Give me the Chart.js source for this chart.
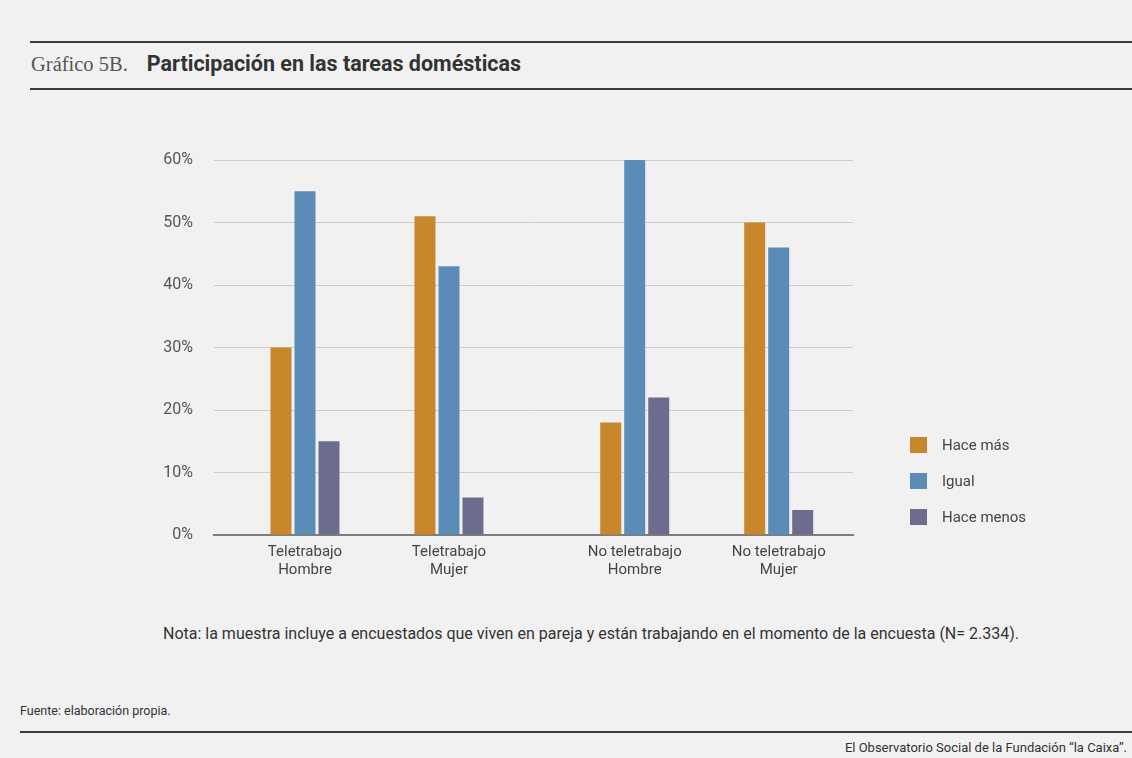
<!DOCTYPE html>
<html>
<head>
<meta charset="utf-8">
<script src="https://cdn.jsdelivr.net/npm/chart.js@4"></script>
<style>
  html, body { margin: 0; padding: 0; background: #f1f1f1; }
  body { width: 1132px; height: 758px; position: relative; overflow: hidden; font-family: Roboto, 'Liberation Sans', sans-serif; color: #333; }
  .rule { position: absolute; height: 2px; background: #3a3a3a; }
  #title { position: absolute; left: 31px; top: 51px; white-space: nowrap; }
  #title .num { font-family: 'Liberation Serif', 'DejaVu Serif', serif; font-size: 20.5px; color: #555; margin-right: 19px; }
  #title .main { font-weight: bold; font-size: 21.5px; color: #333; }
  #chartBox { position: absolute; left: 0; top: 100px; width: 1132px; height: 500px; }
  #legend { position: absolute; left: 910px; top: 436px; font-size: 15px; color: #444; }
  #legend .item { height: 36px; display: flex; align-items: flex-start; }
  #legend .sw { width: 17px; height: 16px; margin-right: 15px; margin-top: 1px; }
  #note { position: absolute; left: 0; width: 1182px; top: 624px; text-align: center; font-size: 16px; color: #333; }
  #source { position: absolute; left: 20px; top: 703px; font-size: 12.5px; color: #333; }
  #credit { position: absolute; right: 5px; top: 740px; font-size: 13px; color: #333; }
</style>
</head>
<body>
<div class="rule" style="left:30px; right:0; top:41px;"></div>
<div id="title"><span class="num">Gráfico 5B.</span><span class="main">Participación en las tareas domésticas</span></div>
<div class="rule" style="left:30px; right:0; top:88px;"></div>

<div id="chartBox"><canvas id="chart" width="1132" height="500"></canvas></div>
<div id="legend"></div>

<div id="note">Nota: la muestra incluye a encuestados que viven en pareja y están trabajando en el momento de la encuesta (N= 2.334).</div>
<div id="source">Fuente: elaboración propia.</div>
<div class="rule" style="left:20px; right:0; top:731px;"></div>
<div id="credit">El Observatorio Social de la Fundación “la Caixa”.</div>

<script>
// Categories (two-line labels) and series values (%)
var categories = [
    ['Teletrabajo', 'Hombre'],
    ['Teletrabajo', 'Mujer'],
    ['No teletrabajo', 'Hombre'],
    ['No teletrabajo', 'Mujer']
];
var seriesNames = ['Hace más', 'Igual', 'Hace menos'];
var haceMas = [30, 51, 18, 50];
var igual = [55, 43, 60, 46];
var haceMenos = [15, 6, 22, 4];
var yTicks = [0, 10, 20, 30, 40, 50, 60];

var colors = ['#c8872a', '#5b8cb8', '#6c6c8e'];
var seriesValues = [haceMas, igual, haceMenos];

// extra space between the teletrabajo and no teletrabajo pairs
var pairGap = 0.29;
function slot(i) { return i + (i >= 2 ? pairGap : 0); }
var slots = categories.map(function (c, i) { return slot(i); });

var datasets = seriesNames.map(function (name, s) {
    return {
        label: name,
        data: seriesValues[s].map(function (v, i) { return { x: slots[i], y: v }; }),
        backgroundColor: colors[s],
        borderWidth: 0,
        categoryPercentage: 0.5,
        barPercentage: 0.875
    };
});

// legend
var legend = document.getElementById('legend');
seriesNames.forEach(function (name, s) {
    var item = document.createElement('div');
    item.className = 'item';
    item.innerHTML = '<span class="sw" style="background:' + colors[s] + '"></span><span>' + name + '</span>';
    legend.appendChild(item);
});

var ctx = document.getElementById('chart').getContext('2d');
window.chart = new Chart(ctx, {
    type: 'bar',
    data: { datasets: datasets },
    options: {
        responsive: false,
        maintainAspectRatio: false,
        animation: false,
        layout: { padding: { left: 150, right: 279, top: 60, bottom: 15 } },
        plugins: { legend: { display: false }, tooltip: { enabled: false } },
        scales: {
            x: {
                type: 'linear',
                offset: false,
                min: -0.632,
                max: 3.806,
                afterBuildTicks: function (scale) {
                    scale.ticks = slots.map(function (v) { return { value: v }; });
                },
                afterFit: function (scale) { scale.height = 50; },
                grid: { display: false, drawTicks: false },
                border: { display: true, color: '#7d7d7d', width: 2 },
                ticks: {
                    padding: 8,
                    color: '#444',
                    font: { family: 'Roboto', size: 15, lineHeight: 1.2 },
                    maxRotation: 0,
                    autoSkip: false,
                    callback: function (value) {
                        var i = slots.indexOf(value);
                        return i >= 0 ? categories[i] : '';
                    }
                }
            },
            y: {
                min: 0,
                max: 60,
                afterBuildTicks: function (scale) {
                    scale.ticks = yTicks.map(function (v) { return { value: v }; });
                },
                afterFit: function (scale) { scale.width = 64; },
                grid: { color: '#cdcdcd', lineWidth: 1, drawTicks: false },
                border: { display: false },
                ticks: {
                    padding: 21,
                    color: '#555',
                    font: { family: 'Roboto', size: 16 },
                    callback: function (v) { return v + '%'; }
                }
            }
        }
    }
});
</script>
</body>
</html>
